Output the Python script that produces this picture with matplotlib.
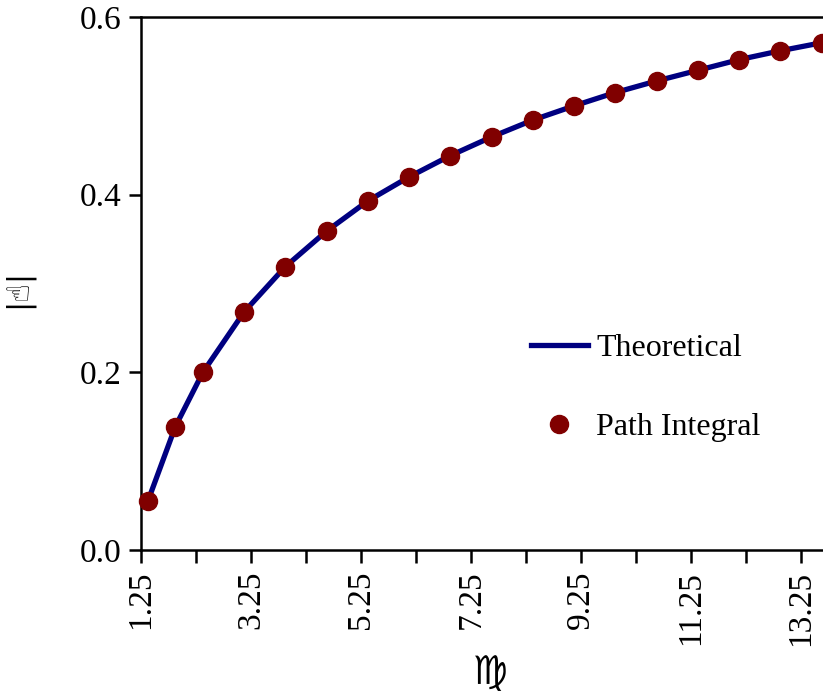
import numpy as np
import matplotlib.pyplot as plt

plt.rcParams['font.family'] = ['Liberation Serif', 'DejaVu Sans']

# sample positions and values
x = [1.375, 1.875, 2.375, 3.125, 3.875, 4.625, 5.375, 6.125, 6.875,
     7.625, 8.375, 9.125, 9.875, 10.625, 11.375, 12.125, 12.875, 13.625]
theory = [0.055, 0.139, 0.200, 0.268, 0.319, 0.359, 0.393, 0.420, 0.444,
          0.465, 0.484, 0.500, 0.515, 0.528, 0.540, 0.552, 0.562, 0.571]
path_int = [0.055, 0.139, 0.200, 0.268, 0.319, 0.359, 0.393, 0.420, 0.444,
            0.465, 0.484, 0.500, 0.515, 0.528, 0.540, 0.552, 0.562, 0.571]

xticks = [1.25, 3.25, 5.25, 7.25, 9.25, 11.25, 13.25]
xminor = [2.25, 4.25, 6.25, 8.25, 10.25, 12.25]
yticks = [0.0, 0.2, 0.4, 0.6]

fig = plt.figure(figsize=(8.23, 6.98), dpi=100)
ax = fig.add_axes([141/823, 148/698, 715/823, 533/698])

ax.plot(x, theory, color='#000080', lw=3.8, label='Theoretical', zorder=2)
ax.plot(x, path_int, 'o', color='#800000', ms=13, mec='#800000',
        label='Path Integral', zorder=3, clip_on=False)

ax.set_xlim(1.25, 14.25)
ax.set_ylim(0, 0.6)
ax.set_xticks(xticks)
ax.set_xticklabels([f'{v:.2f}' for v in xticks], rotation=90)
ax.set_xticks(xminor, minor=True)
ax.set_yticks(yticks)
ax.set_yticklabels([f'{v:.1f}' for v in yticks])

for s in ax.spines.values():
    s.set_linewidth(1.8)
ax.tick_params(which='both', direction='out', length=9, width=1.8,
               labelsize=24, pad=5)
ax.tick_params(axis='x', pad=6)

ax.set_ylabel('|\u261d|', fontsize=22, family='DejaVu Sans')
ax.yaxis.set_label_coords(-0.151, 0.49)
ax.set_xlabel('\u264d', fontsize=28, family='DejaVu Sans')
ax.xaxis.set_label_coords(0.488, -0.196)

ax.legend(loc='upper left', bbox_to_anchor=(0.527, 0.429), frameon=False,
          fontsize=23, handlelength=1.8, handletextpad=0.25,
          labelspacing=1.55, borderaxespad=0)

fig.savefig('out.png', dpi=100)
